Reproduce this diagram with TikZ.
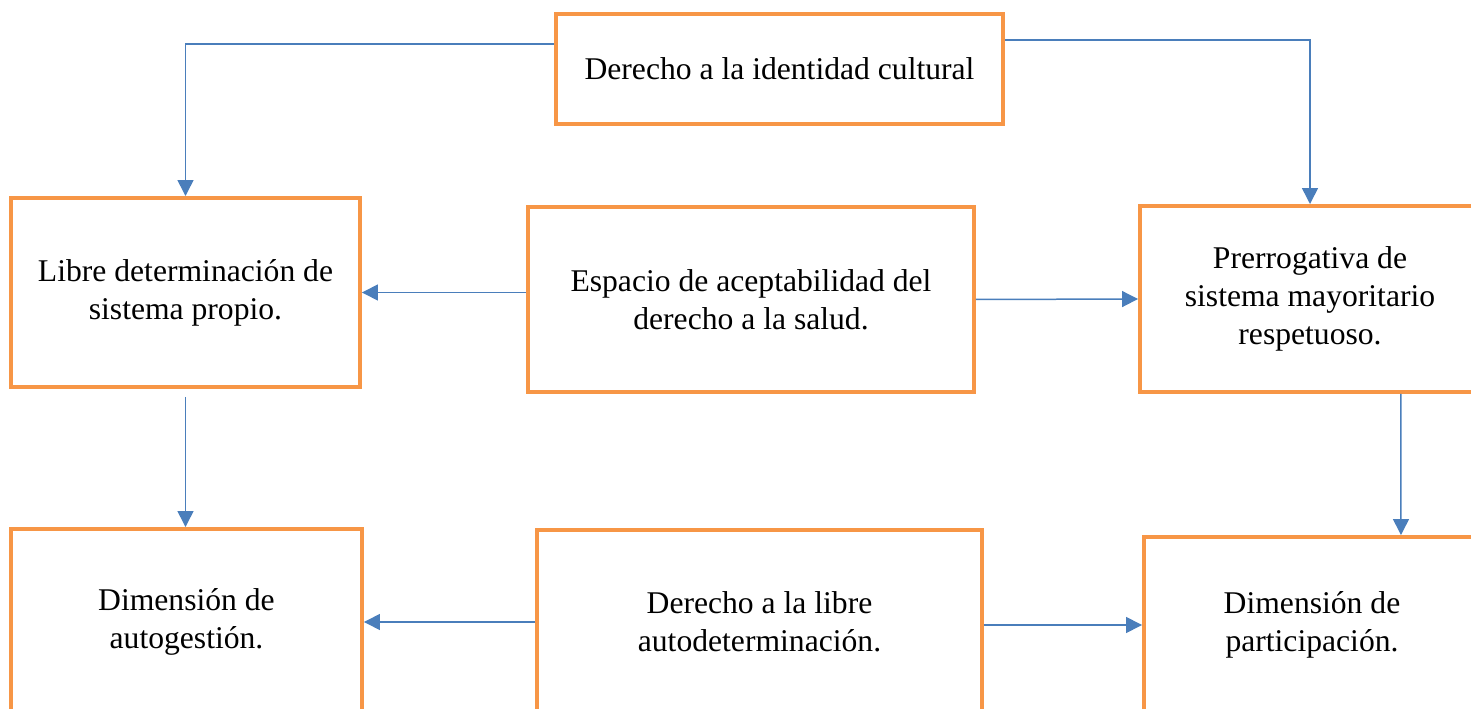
\documentclass[tikz,border=0pt]{standalone}
\usepackage{fontspec}
\setmainfont{LiberationSerif-Regular.ttf}[BoldFont=LiberationSerif-Bold.ttf]
\usetikzlibrary{arrows.meta}
\definecolor{boxorange}{HTML}{F79646}
\definecolor{arrowblue}{HTML}{4A7EBB}
\begin{document}
\begin{tikzpicture}[x=0.02cm, y=-0.02cm,
                    caja/.style={draw=boxorange, line width=0.08cm, rectangle, align=center,
                                 font=\fontsize{18}{21.6}\selectfont, inner sep=0pt},
                    flecha/.style={draw=arrowblue, line width=0.03cm,
                                   -{Triangle[width=0.32cm, length=0.32cm]}}]
  \useasboundingbox (0,0) rectangle (1471,709);
  \clip (0,0) rectangle (1471,709);
  \node[caja, minimum width=8.94cm, minimum height=2.2cm] (identidad) at (779.5,69) {Derecho a la identidad cultural};
  \node[caja, minimum width=6.98cm, minimum height=3.78cm] (libre) at (185.5,292.5) {Libre determinación de\\sistema propio.};
  \node[caja, minimum width=8.92cm, minimum height=3.7cm] (espacio) at (751,299.5) {Espacio de aceptabilidad del\\derecho a la salud.};
  \node[caja, minimum width=6.8cm, minimum height=3.72cm] (prerrogativa) at (1310,299) {Prerrogativa de\\sistema mayoritario\\respetuoso.};
  \node[caja, minimum width=7.02cm, minimum height=3.72cm] (autogestion) at (186.5,622) {Dimensión de\\autogestión.};
  \node[caja, minimum width=8.9cm, minimum height=3.68cm] (autodet) at (759.5,622) {Derecho a la libre\\autodeterminación.};
  \node[caja, minimum width=6.72cm, minimum height=3.52cm] (participacion) at (1312,625) {Dimensión de\\participación.};
  \draw[flecha] ([yshift=0.5cm]identidad.west) -| (libre.north);
  \draw[flecha] ([yshift=0.58cm]identidad.east) -| (prerrogativa.north);
  \draw[flecha] (espacio.west |- libre.east) -- (libre.east);
  \draw[flecha] (espacio.east) -- (prerrogativa.west);
  \draw[flecha] ([yshift=-0.16cm]libre.south) -- (libre.south |- autogestion.north);
  \draw[flecha] ([xshift=1.82cm]prerrogativa.south) -- ([xshift=1.78cm]participacion.north);
  \draw[flecha] (autodet.west |- autogestion.east) -- (autogestion.east);
  \draw[flecha] (autodet.east |- participacion.west) -- (participacion.west);
\end{tikzpicture}
\end{document}
